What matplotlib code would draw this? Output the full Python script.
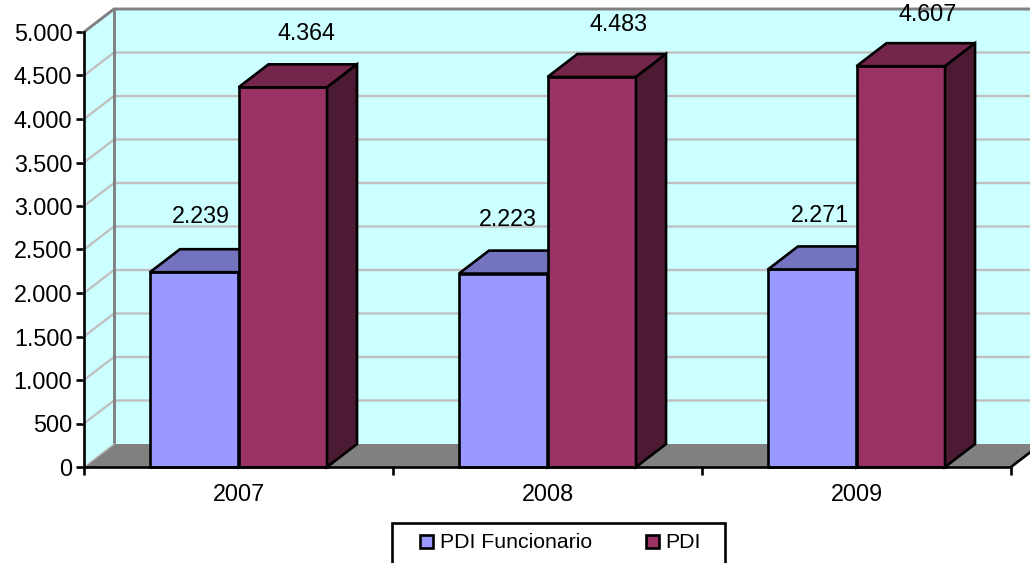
import matplotlib
matplotlib.use("Agg")
import matplotlib.pyplot as plt
from matplotlib.patches import Polygon, Rectangle

plt.rcParams['font.family'] = ['Liberation Sans', 'DejaVu Sans']

# === Data ===
years = ["2007", "2008", "2009"]
pdi_funcionario = [2239, 2223, 2271]
pdi = [4364, 4483, 4607]
pdi_funcionario_labels = ["2.239", "2.223", "2.271"]
pdi_labels = ["4.364", "4.483", "4.607"]
y_ticks = [0, 500, 1000, 1500, 2000, 2500, 3000, 3500, 4000, 4500, 5000]
y_tick_labels = ["0", "500", "1.000", "1.500", "2.000", "2.500", "3.000", "3.500", "4.000", "4.500", "5.000"]

W, H = 1030, 563
AX_L, AX_R, AX_T, AX_B = 84, 1011, 32, 467

fig = plt.figure(figsize=(W / 100, H / 100), dpi=100)
ax = fig.add_axes([AX_L / W, 1 - AX_B / H, (AX_R - AX_L) / W, (AX_B - AX_T) / H])
ax.set_xlim(0, 3)
ax.set_ylim(0, 5000)

# depth of the fake 3d box, in data units
dx = 30 / 309
dy = 23 / 435 * 5000
bar_w = 0.2865
FS = 16.85
LW = 1.9


def poly(points, fc, ec, lw=LW, z=1):
    ax.add_patch(Polygon(points, closed=True, facecolor=fc, edgecolor=ec, linewidth=lw,
                         zorder=z, clip_on=False, joinstyle='miter'))


def bar3d(x0, val, front, top, side, z):
    poly([(x0, 0), (x0 + bar_w, 0), (x0 + bar_w, val), (x0, val)], front, 'black', z=z)
    poly([(x0, val), (x0 + bar_w, val), (x0 + bar_w + dx, val + dy), (x0 + dx, val + dy)], top, 'black', z=z)
    poly([(x0 + bar_w, 0), (x0 + bar_w + dx, dy), (x0 + bar_w + dx, val + dy), (x0 + bar_w, val)], side, 'black', z=z)


# === Walls and floor ===
wall = '#CCFFFF'
poly([(dx, dy), (3 + dx, dy), (3 + dx, 5000 + dy), (dx, 5000 + dy)], wall, 'none', z=1)
poly([(0, 0), (dx, dy), (dx, 5000 + dy), (0, 5000)], wall, 'none', z=1)

for v in y_ticks[1:-1]:
    ax.plot([0, dx, 3 + dx], [v, v + dy, v + dy], color='#C0C0C0', lw=1.7, zorder=2,
            clip_on=False, solid_joinstyle='miter')

ax.plot([0, dx, 3 + dx], [5000, 5000 + dy, 5000 + dy], color='#808080', lw=2.1, zorder=2.5,
        clip_on=False, solid_joinstyle='miter')
ax.plot([dx, dx], [dy, 5000 + dy], color='#808080', lw=2.1, zorder=2.5, clip_on=False)

poly([(0, 0), (3, 0), (3 + dx, dy), (dx, dy)], '#808080', 'none', z=2.6)
ax.plot([0, dx], [0, dy], color='#C0C0C0', lw=1.0, zorder=2.65, clip_on=False)
ax.plot([3, 3 + dx], [0, dy], color='black', lw=LW, zorder=2.7, clip_on=False)

# === Bars ===
for i in range(len(years)):
    x0 = i + 0.5 - bar_w
    bar3d(x0, pdi_funcionario[i], '#9999FF', '#7373BF', '#4D4D80', 3 + i)
    bar3d(i + 0.5, pdi[i], '#993366', '#732649', '#4D1A33', 3.5 + i)

# === Data labels (the offsets are where the original placed them, in pixels) ===
lab1_off = [(7, 33), (5, 31), (8, 31)]
lab2_off = [(24, 31), (27, 29), (27, 29)]
for i in range(len(years)):
    ax.annotate(pdi_funcionario_labels[i], (i + 0.5 - bar_w / 2, pdi_funcionario[i] + dy),
                xytext=(lab1_off[i][0] * 0.72, lab1_off[i][1] * 0.72), textcoords='offset points',
                ha='center', va='center', fontsize=FS, zorder=10, annotation_clip=False)
    ax.annotate(pdi_labels[i], (i + 0.5 + bar_w / 2, pdi[i] + dy),
                xytext=(lab2_off[i][0] * 0.72, lab2_off[i][1] * 0.72), textcoords='offset points',
                ha='center', va='center', fontsize=FS, zorder=10, annotation_clip=False)

# === Axes ===
for s in ['top', 'right']:
    ax.spines[s].set_visible(False)
ax.patch.set_visible(False)
for s in ['left', 'bottom']:
    ax.spines[s].set_linewidth(LW)
    ax.spines[s].set_zorder(20)
    ax.spines[s].set_capstyle('projecting')
ax.set_yticks(y_ticks)
ax.set_yticklabels(y_tick_labels, fontsize=FS)
ax.set_xticks([0, 1, 2, 3])
ax.set_xticklabels([])
ax.set_xticks([0.5, 1.5, 2.5], minor=True)
ax.set_xticklabels(years, minor=True, fontsize=FS)
ax.tick_params(axis='y', length=5.8, width=LW, pad=2.5)
ax.tick_params(axis='x', which='major', length=5.8, width=LW)
ax.tick_params(axis='x', which='minor', length=0, pad=11.5)


# === Legend, its box runs off the bottom of the picture ===
def px_rect(x0, y0, x1, y1, **kw):
    fig.add_artist(Rectangle((x0 / W, 1 - y1 / H), (x1 - x0) / W, (y1 - y0) / H,
                             transform=fig.transFigure, joinstyle='miter', **kw))


px_rect(392, 523, 725, 580, facecolor='white', edgecolor='black', linewidth=LW)
px_rect(420, 535, 433, 548, facecolor='#9999FF', edgecolor='black', linewidth=LW)
px_rect(646, 535, 659, 548, facecolor='#993366', edgecolor='black', linewidth=LW)
fig.text(440 / W, 1 - 542.5 / H, "PDI Funcionario", fontsize=15.3, va='center', ha='left')
fig.text(665 / W, 1 - 542.5 / H, "PDI", fontsize=15.3, va='center', ha='left')

fig.savefig("out.png", dpi=100)
